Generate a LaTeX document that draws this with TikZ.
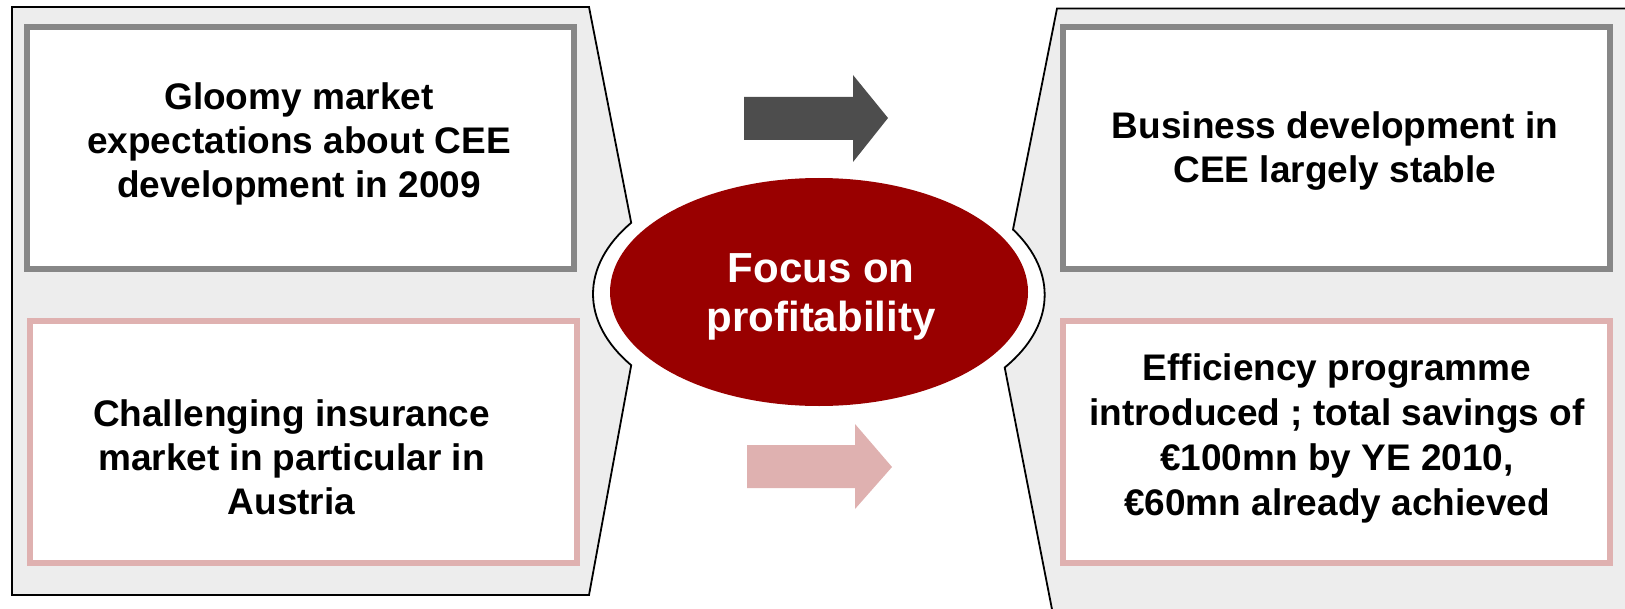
\documentclass[tikz,border=0pt]{standalone}
\usepackage{fontspec}
\setmainfont{Liberation Sans}
\usepackage{tikz}
\usetikzlibrary{positioning, shapes.geometric}

\definecolor{panelgrey}{HTML}{EDEDED}
\definecolor{framegrey}{HTML}{878787}
\definecolor{framepink}{HTML}{DFB1B0}
\definecolor{focusred}{HTML}{990000}
\definecolor{arrowdark}{HTML}{4D4D4D}

\tikzstyle{panel}=[fill=panelgrey, draw=black, line width=0.9pt, line join=miter]
\tikzstyle{frame}=[draw, fill=white, line width=3pt, minimum width=273.5pt, minimum height=121pt, inner sep=0pt]
\tikzstyle{boxtext}=[align=center, inner sep=0pt, font=\bfseries\fontsize{18.5}{22}\selectfont]
\tikzstyle{focus}=[ellipse, fill=focusred, inner sep=0pt, minimum width=209pt, minimum height=114pt]
\tikzstyle{focustext}=[text=white, align=center, inner sep=0pt, font=\bfseries\fontsize{21}{24.5}\selectfont]

\begin{document}
\begin{tikzpicture}[x=0.5pt, y=-0.5pt]
  \useasboundingbox (0,0) rectangle (1625,609);
  \clip (0,0) rectangle (1625,609);

  % side panels, cut round the centre ellipse
  \draw [panel] (12,7) -- (589,7) -- (631.2,222.8)
    arc [start angle=213.8, end angle=146.2, x radius=226, y radius=128]
    -- (589,595) -- (12,595) -- cycle;
  \draw [panel] (1700,8.5) -- (1057,8.5) -- (1013,229.5)
    arc [start angle=-30.7, end angle=34.6, x radius=226, y radius=128]
    -- (1058,640) -- (1700,640) -- cycle;

  % situation (left) and results (right)
  \node [frame, draw=framegrey] (gloomy-box) at (300.5,148) {};
  \node [frame, draw=framepink] (insur-box) at (303,442) {};
  \node [frame, draw=framegrey] (stable-box) at (1336.5,148) {};
  \node [frame, draw=framepink] (saving-box) at (1336.5,442) {};

  \node [boxtext] (gloomy) at (299,143.5) {Gloomy market\\expectations about CEE\\development in 2009};
  \node [boxtext] (insur) at (291.5,457) {Challenging insurance\\market in particular in\\Austria};
  \node [boxtext] (stable) at (1335,151) {Business development in\\CEE largely stable};
  \node [boxtext, font=\bfseries\fontsize{18.5}{22.6}\selectfont] (saving) at (1337,438.5)
    {Efficiency programme\\introduced ; total savings of\\€100mn by YE 2010,\\€60mn already achieved};

  \node [focus] (focus) at (819,292) {};
  \node [focustext] (focus-text) at (821,297) {Focus on\\profitability};

  % block arrows
  \fill [arrowdark] (744,97) -- (853,97) -- (853,75) -- (888,118)
    -- (853,162) -- (853,140) -- (744,140) -- cycle;
  \fill [framepink] (747,445) -- (855,445) -- (855,424) -- (892,467)
    -- (855,509) -- (855,488) -- (747,488) -- cycle;
\end{tikzpicture}
\end{document}
